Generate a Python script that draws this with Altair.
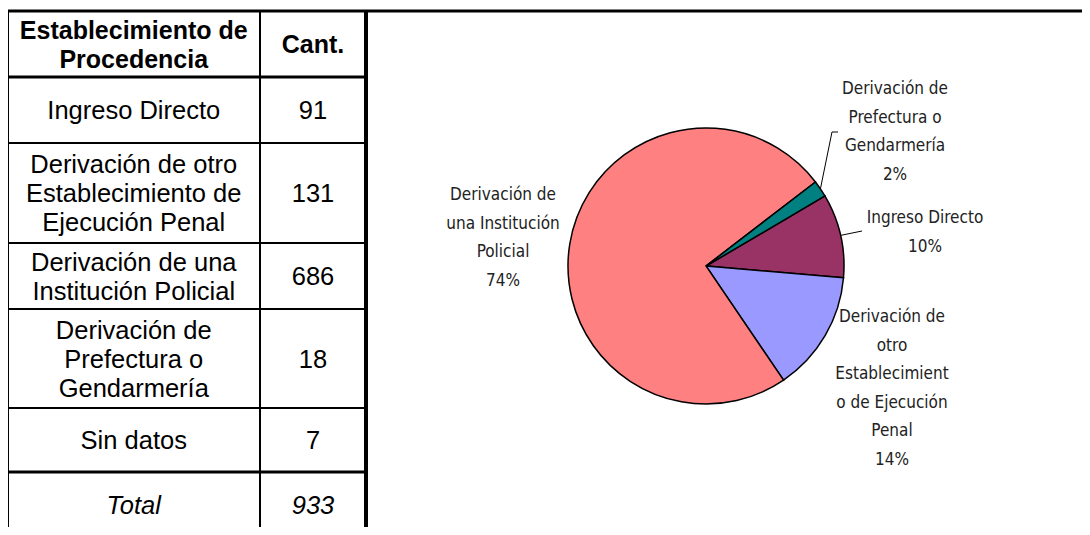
import math
import altair as alt
import pandas as pd

# ---------------- data ----------------
header_col1 = ["Establecimiento de", "Procedencia"]
header_col2 = ["Cant."]
row_label_lines = [
    ["Ingreso Directo"],
    ["Derivación de otro", "Establecimiento de", "Ejecución Penal"],
    ["Derivación de una", "Institución Policial"],
    ["Derivación de", "Prefectura o", "Gendarmería"],
    ["Sin datos"],
]
row_counts = [91, 131, 686, 18, 7]
total_label = "Total"
total_count = 933

pie_keys = ["Ingreso Directo", "Derivación de otro Establecimiento de Ejecución Penal",
            "Derivación de una Institución Policial", "Derivación de Prefectura o Gendarmería"]
pie_values = [91, 131, 686, 18]
pie_colors = ["#993366", "#9999FF", "#FF8080", "#008080"]
pie_label_lines = [
    ["Ingreso Directo"],
    ["Derivación de", "otro", "Establecimient", "o de Ejecución", "Penal"],
    ["Derivación de", "una Institución", "Policial"],
    ["Derivación de", "Prefectura o", "Gendarmería"],
]

# ---------------- layout (pixels, chart coords) ----------------
W, H = 1074, 519
OFF = 8  # page margin
def px(v):
    return v - OFF

tbl_left, tbl_mid, tbl_right = px(7.5), px(260), px(366)
tbl_top = px(11)
row_heights = [66, 66, 100, 66, 99, 64, 66]
line_h_tbl = 29
font_hdr = 25
font_tbl = 25.5

cx, cy, R = px(706), px(266), 138
start_deg = 59.5
line_h_lbl = 28.5
font_lbl = 17
label_font = "DejaVu Sans Condensed, Liberation Sans, sans-serif"
label_pos = [(px(925), px(218)), (px(892), px(317)), (px(503), px(195)), (px(895), px(89))]

# ---------------- table text ----------------
rows_text = [(header_col1, header_col2, "bold", "normal")]
for lines, c in zip(row_label_lines, row_counts):
    rows_text.append((lines, [str(c)], "normal", "normal"))
rows_text.append(([total_label], [str(total_count)], "normal", "italic"))

bounds = [tbl_top]
for h in row_heights:
    bounds.append(bounds[-1] + h)

txt = []
col1_x = (tbl_left + tbl_mid) / 2
col2_x = (tbl_mid + tbl_right) / 2
for i, (l1, l2, w, s) in enumerate(rows_text):
    mid = (bounds[i] + bounds[i + 1]) / 2 + 1
    for lines, xx in ((l1, col1_x), (l2, col2_x)):
        n = len(lines)
        for k, t in enumerate(lines):
            txt.append({"x": xx, "y": mid + (k - (n - 1) / 2) * line_h_tbl,
                        "text": t, "weight": w, "style": s})
txt_df = pd.DataFrame(txt)

def table_text(weight, style, size):
    d = txt_df[(txt_df.weight == weight) & (txt_df["style"] == style)]
    return alt.Chart(d).mark_text(
        font="Liberation Sans", fontSize=size, fontWeight=weight, fontStyle=style,
        color="black", align="center", baseline="middle"
    ).encode(x=alt.X("x:Q", scale=None), y=alt.Y("y:Q", scale=None), text="text:N")

# ---------------- table lines ----------------
bottom = H + 20
segs = []
segs.append({"x": px(0), "x2": W + 10, "y": tbl_top, "y2": tbl_top, "sw": 3})  # top rule across
segs.append({"x": tbl_left, "x2": tbl_left, "y": tbl_top, "y2": bottom, "sw": 3})
segs.append({"x": tbl_mid, "x2": tbl_mid, "y": tbl_top, "y2": bottom, "sw": 2})
segs.append({"x": tbl_right, "x2": tbl_right, "y": tbl_top, "y2": bottom, "sw": 4})
for i, b in enumerate(bounds[1:-1]):
    thick = 3 if i in (0, len(bounds) - 3) else 2
    segs.append({"x": tbl_left, "x2": tbl_right + 2, "y": b, "y2": b, "sw": thick})
seg_df = pd.DataFrame(segs)
seg_layer = alt.Chart(seg_df).mark_rule(color="black", strokeCap="butt").encode(
    x=alt.X("x:Q", scale=None), x2="x2:Q", y=alt.Y("y:Q", scale=None), y2="y2:Q",
    strokeWidth=alt.StrokeWidth("sw:Q", scale=None))

# ---------------- pie ----------------
pie_df = pd.DataFrame({"key": pie_keys, "value": pie_values, "order": list(range(len(pie_values)))})
t0 = math.radians(start_deg)
pie = alt.Chart(pie_df).mark_arc(outerRadius=R, stroke="black", strokeWidth=1.5).encode(
    theta=alt.Theta("value:Q", stack=True, scale=alt.Scale(range=[t0, t0 + 2 * math.pi])),
    color=alt.Color("key:N", scale=alt.Scale(domain=pie_keys, range=pie_colors), legend=None),
    order=alt.Order("order:Q"),
    x=alt.value(cx), y=alt.value(cy),
)

tot = sum(pie_values)
lbl = []
for lines, v, (lx, ly) in zip(pie_label_lines, pie_values, label_pos):
    allines = lines + [f"{round(v / tot * 100)}%"]
    for k, t in enumerate(allines):
        lbl.append({"x": lx, "y": ly + k * line_h_lbl, "text": t})
lbl_df = pd.DataFrame(lbl)
labels = alt.Chart(lbl_df).mark_text(
    font=label_font, fontSize=font_lbl, color="#222222",
    align="center", baseline="middle"
).encode(x=alt.X("x:Q", scale=None), y=alt.Y("y:Q", scale=None), text="text:N")

# leader lines from slice mid angles
cum = [0]
for v in pie_values:
    cum.append(cum[-1] + v)
def edge(i):
    a = t0 + 2 * math.pi * (cum[i] + pie_values[i] / 2) / tot
    return cx + R * math.sin(a), cy - R * math.cos(a)
e0 = edge(0)
e3 = edge(3)
lead = pd.DataFrame([
    {"x": e0[0], "y": e0[1], "x2": px(862), "y2": px(231)},
    {"x": e3[0], "y": e3[1], "x2": px(832), "y2": px(132)},
    {"x": px(832), "y": px(132), "x2": px(838), "y2": px(132)},
])
leaders = alt.Chart(lead).mark_rule(color="black", strokeWidth=1).encode(
    x=alt.X("x:Q", scale=None), x2="x2:Q", y=alt.Y("y:Q", scale=None), y2="y2:Q")

chart = alt.layer(
    pie, leaders, labels, seg_layer,
    table_text("bold", "normal", font_hdr), table_text("normal", "normal", font_tbl),
    table_text("normal", "italic", font_tbl),
).properties(width=W, height=H, padding=0, autosize=alt.AutoSizeParams(type="none")
).configure_view(stroke=None)

chart.save("out.html", embed_options={"renderer": "svg", "actions": False})
